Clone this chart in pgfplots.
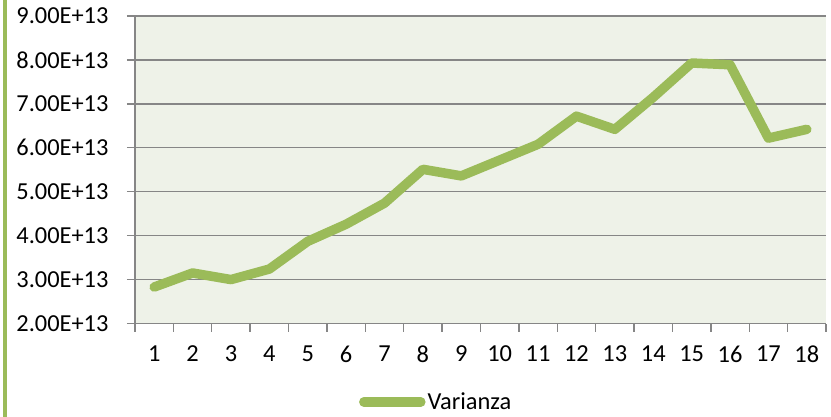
\documentclass[border=0pt]{standalone}
\usepackage{fontspec}
\setmainfont{Carlito}
\usepackage{pgfplots}
\pgfplotsset{compat=1.18}
\definecolor{olive}{HTML}{9BBB59}
\definecolor{plotbg}{HTML}{EEF2E8}
\definecolor{gridgray}{HTML}{868686}
\begin{document}
\begin{tikzpicture}[x=1bp,y=1bp]
\useasboundingbox (-135bp,-93.5bp) rectangle (696bp,323.5bp);
\fill[olive] (-132bp,-93.5bp) rectangle (-128bp,323.5bp);
\begin{axis}[
    at={(0,0)}, anchor=south west,
    scale only axis,
    width=691bp, height=307.5bp,
    xmin=0.5, xmax=18.5,
    ymin=2e13, ymax=9e13,
    scaled y ticks=false,
    axis background/.style={fill=plotbg},
    axis x line=bottom, axis y line=left,
    axis line style={gridgray, line width=1.4bp, -},
    xtick={1,...,18},
    xticklabels={1,2,3,4,5,6,7,8,9,10,11,12,13,14,15,16,17,18},
    minor xtick={0.5,1.5,...,18.5},
    ytick={2e13,3e13,4e13,5e13,6e13,7e13,8e13,9e13},
    yticklabels={2.00E+13,3.00E+13,4.00E+13,5.00E+13,6.00E+13,7.00E+13,8.00E+13,9.00E+13},
    tick align=outside,
    major tick length=8bp,
    minor tick length=8bp,
    x tick style={draw=none},
    minor x tick style={draw=gridgray, line width=1.4bp},
    y tick style={gridgray, line width=1.4bp},
    ymajorgrids=true,
    major grid style={gridgray, line width=1.4bp},
    ticklabel style={font=\fontsize{24.5}{30}\selectfont, text=black},
    yticklabel style={xshift=-15bp},
    xticklabel style={yshift=-11bp},
    legend style={at={(0.324,-0.255)}, anchor=west, draw=none, fill=none,
        font=\fontsize{24.5}{30}\selectfont, inner sep=0pt},
    legend image code/.code={
        \draw[#1, line cap=round] (0bp,0bp) -- (57bp,0bp);
    },
    legend cell align=left,
    clip=false,
]
\addplot[olive, line width=9.5bp, line join=round, line cap=round] coordinates {
  (1,2.83e13) (2,3.15e13) (3,3.00e13) (4,3.24e13) (5,3.87e13) (6,4.26e13)
  (7,4.74e13) (8,5.51e13) (9,5.36e13) (10,5.72e13) (11,6.08e13) (12,6.72e13)
  (13,6.42e13) (14,7.15e13) (15,7.93e13) (16,7.89e13) (17,6.22e13) (18,6.42e13)
};
\legend{Varianza}
\end{axis}
\end{tikzpicture}
\end{document}
